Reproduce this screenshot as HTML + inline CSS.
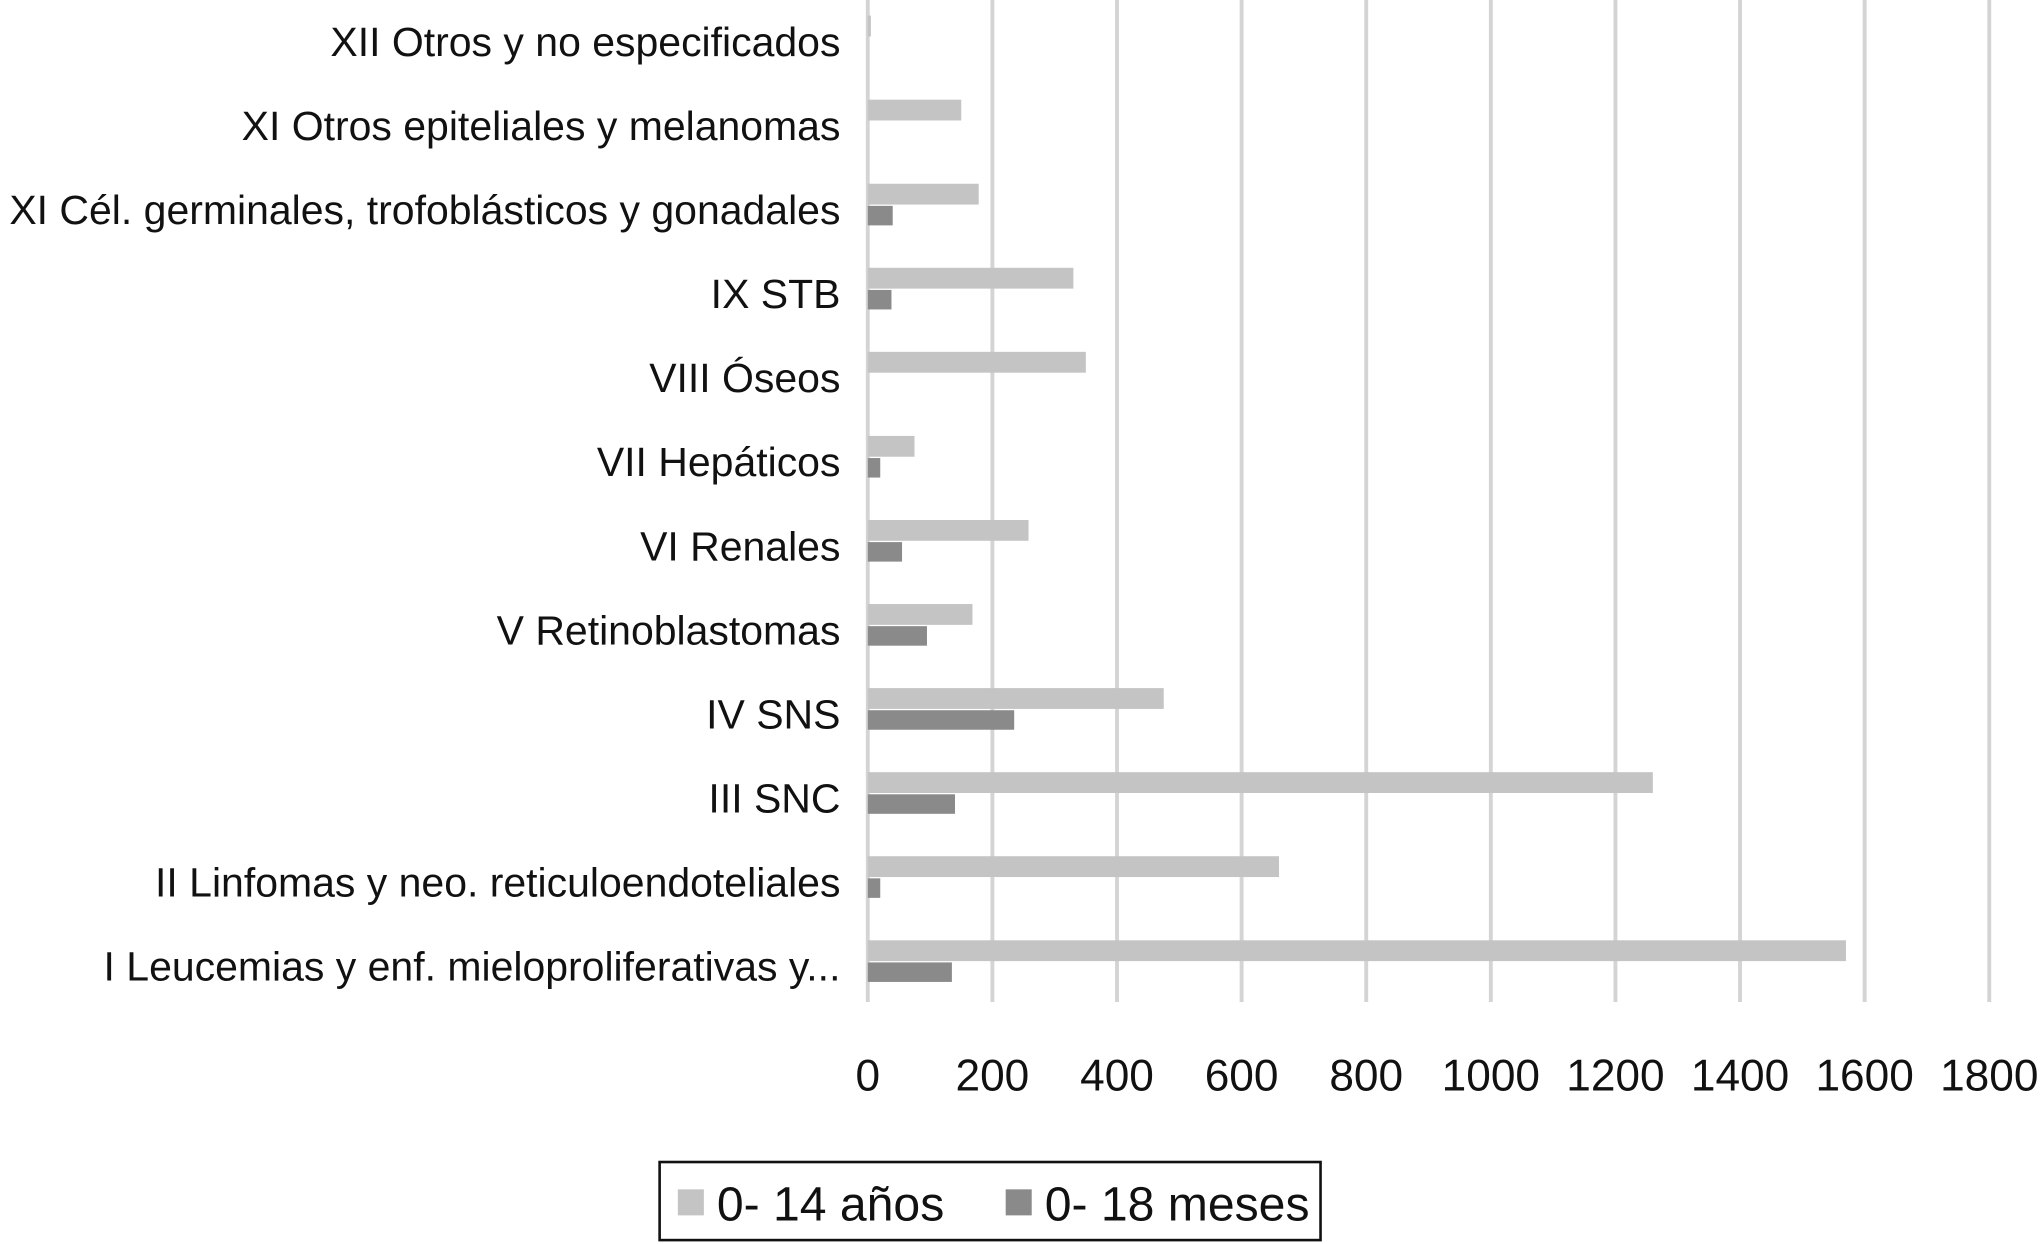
<!DOCTYPE html>
<html><head><meta charset="utf-8"><style>
html,body{margin:0;padding:0;background:#fff}
svg{display:block}
text{font-family:"Liberation Sans",sans-serif;fill:#111}
</style></head><body>
<svg id="chart" width="2040" height="1244" viewBox="0 0 1568 956" preserveAspectRatio="none" xmlns="http://www.w3.org/2000/svg">
<g id="grid"></g><g id="bars"></g><g id="labels"></g><g id="ticks"></g>
<g>
<rect x="507" y="893" width="508" height="60" fill="#fff" stroke="#111" stroke-width="2"/>
<rect x="521" y="914" width="20" height="20" fill="#c4c4c4"/>
<text x="551" y="938" font-size="37">0- 14 años</text>
<rect x="773" y="914" width="20" height="20" fill="#8a8a8a"/>
<text x="803" y="938" font-size="37">0- 18 meses</text>
</g>
</svg>
<script>
const categories=["XII Otros y no especificados","XI Otros epiteliales y melanomas","XI Cél. germinales, trofoblásticos y gonadales","IX STB","VIII Óseos","VII Hepáticos","VI Renales","V Retinoblastomas","IV SNS","III SNC","II Linfomas y neo. reticuloendoteliales","I Leucemias y enf. mieloproliferativas y..."];
const series014=[5,150,178,330,350,75,258,168,475,1260,660,1570];
const series018m=[0,0,40,38,0,20,55,95,235,140,20,135];
const ticks=[0,200,400,600,800,1000,1200,1400,1600,1800];
const NS="http://www.w3.org/2000/svg";
const x0=667,x1=1529,max=1800;
const xs=v=>x0+(x1-x0)*v/max;
const yc=i=>32+i*64.6;
function mk(t,a,p){const e=document.createElementNS(NS,t);for(const k in a)e.setAttribute(k,a[k]);p.appendChild(e);return e;}
const g=document.getElementById('grid'),b=document.getElementById('bars'),l=document.getElementById('labels'),tk=document.getElementById('ticks');
ticks.forEach(t=>{
 const ln=mk('line',{x1:xs(t),x2:xs(t),y1:0,y2:770,stroke:'#d4d4d4','stroke-width':3},g);
 
 
 const tx=mk('text',{x:xs(t),y:838,'font-size':34,'text-anchor':'middle'},tk);
 tx.textContent=t;
 
 
});
categories.forEach((c,i)=>{
 const y=yc(i);
 const r1=mk('rect',{x:x0,y:y-20,width:Math.max(0,xs(series014[i])-x0),height:16,fill:'#c4c4c4'},b);
 
 
 const r2=mk('rect',{x:x0,y:y-3,width:Math.max(0,xs(series018m[i])-x0),height:15,fill:'#8a8a8a'},b);
 
 
 const tx=mk('text',{x:646,y:y+11,'font-size':31.5,'text-anchor':'end'},l);
 tx.textContent=c;
 
 
});
</script>
</body></html>
